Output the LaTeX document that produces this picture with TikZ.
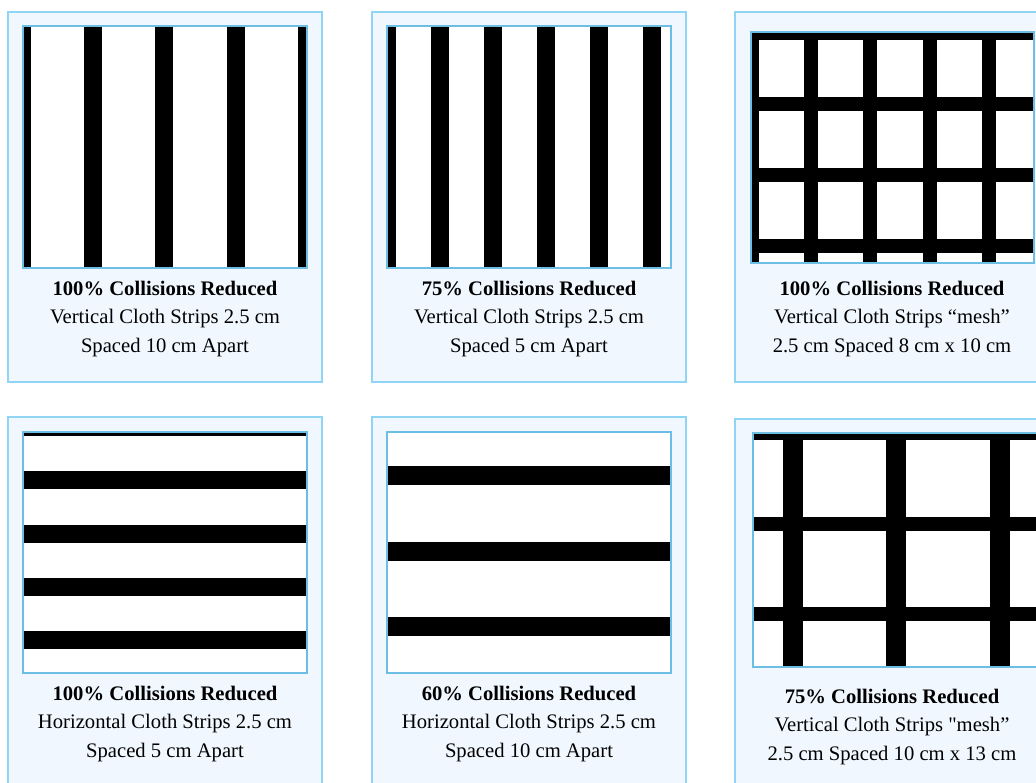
\documentclass[tikz,border=0pt]{standalone}
\usepackage{fontspec}
\setmainfont{Liberation Serif}
\usetikzlibrary{positioning}
\definecolor{cardfill}{RGB}{240,247,254}
\definecolor{cardedge}{RGB}{145,213,245}
\definecolor{frameedge}{RGB}{108,190,228}
\tikzset{
  card/.style={fill=cardfill,draw=cardedge,line width=0.85pt},
  frame/.style={draw=frameedge,line width=1.4pt},
  strip/.style={fill=black},
  caption/.style={align=center,inner sep=0pt,font=\fontsize{11.75}{16.3}\selectfont}
}
\begin{document}
\begin{tikzpicture}[x=0.02cm,y=-0.02cm]
  \useasboundingbox (0,0) rectangle (1036,783);
  \clip (0,0) rectangle (1036,783);
  % cards
  \foreach \x/\y/\h in {8/12/370, 372/12/370, 735/12/370, 8/417/400, 372/417/400, 735/419/400}{
    \draw[card] (\x,\y) rectangle (\x+314,\y+\h);
  }
  % vertical strips, 10 cm apart
  \begin{scope}
    \clip (23,26) rectangle (307,268);
    \fill[white] (23,26) rectangle (307,268);
    \foreach \c in {22,93,164,236,307}
      \fill[strip] (\c-9,26) rectangle (\c+9,268);
  \end{scope}
  \draw[frame] (23,26) rectangle (307,268);
  % vertical strips, 5 cm apart
  \begin{scope}
    \clip (387,26) rectangle (671,268);
    \fill[white] (387,26) rectangle (671,268);
    \foreach \c in {387,440,493,546,599,652}
      \fill[strip] (\c-9,26) rectangle (\c+9,268);
  \end{scope}
  \draw[frame] (387,26) rectangle (671,268);
  % mesh 8 x 10
  \begin{scope}
    \clip (751,32) rectangle (1034,263);
    \fill[white] (751,32) rectangle (1034,263);
    \foreach \c in {752,811,870,930,989}
      \fill[strip] (\c-7,32) rectangle (\c+7,263);
    \foreach \r in {33,104,175,246}
      \fill[strip] (751,\r-7) rectangle (1034,\r+7);
  \end{scope}
  \draw[frame] (751,32) rectangle (1034,263);
  % horizontal strips, 5 cm apart
  \begin{scope}
    \clip (23,432) rectangle (307,673);
    \fill[white] (23,432) rectangle (307,673);
    \foreach \r in {427,480,534,587,640}
      \fill[strip] (23,\r-9) rectangle (307,\r+9);
  \end{scope}
  \draw[frame] (23,432) rectangle (307,673);
  % horizontal strips, 10 cm apart
  \begin{scope}
    \clip (387,432) rectangle (671,673);
    \fill[white] (387,432) rectangle (671,673);
    \foreach \r in {476,552,627}
      \fill[strip] (387,\r-9.5) rectangle (671,\r+9.5);
  \end{scope}
  \draw[frame] (387,432) rectangle (671,673);
  % mesh 10 x 13
  \begin{scope}
    \clip (753,433) rectangle (1060,667);
    \fill[white] (753,433) rectangle (1060,667);
    \foreach \c in {793,896,1000}
      \fill[strip] (\c-10,433) rectangle (\c+10,667);
    \foreach \r in {433,524,614}
      \fill[strip] (753,\r-7) rectangle (1060,\r+7);
  \end{scope}
  \draw[frame] (753,433) rectangle (1060,667);
  % captions
  \foreach \n/\x/\y/\t/\a/\b in {
    1/165/319/100/Vertical Cloth Strips 2.5 cm/Spaced 10 cm Apart,
    2/529/319/75/Vertical Cloth Strips 2.5 cm/Spaced 5 cm Apart,
    3/892/319/100/Vertical Cloth Strips “mesh”/2.5 cm Spaced 8 cm x 10 cm,
    4/165/724/100/Horizontal Cloth Strips 2.5 cm/Spaced 5 cm Apart,
    5/529/724/60/Horizontal Cloth Strips 2.5 cm/Spaced 10 cm Apart,
    6/892/727/75/Vertical Cloth Strips \textquotedbl{}mesh”/2.5 cm Spaced 10 cm x 13 cm}{
    \node[caption] (cap\n) at (\x,\y) {\textbf{\t\% Collisions Reduced}\\\a\\\b};
  }
\end{tikzpicture}
\end{document}
